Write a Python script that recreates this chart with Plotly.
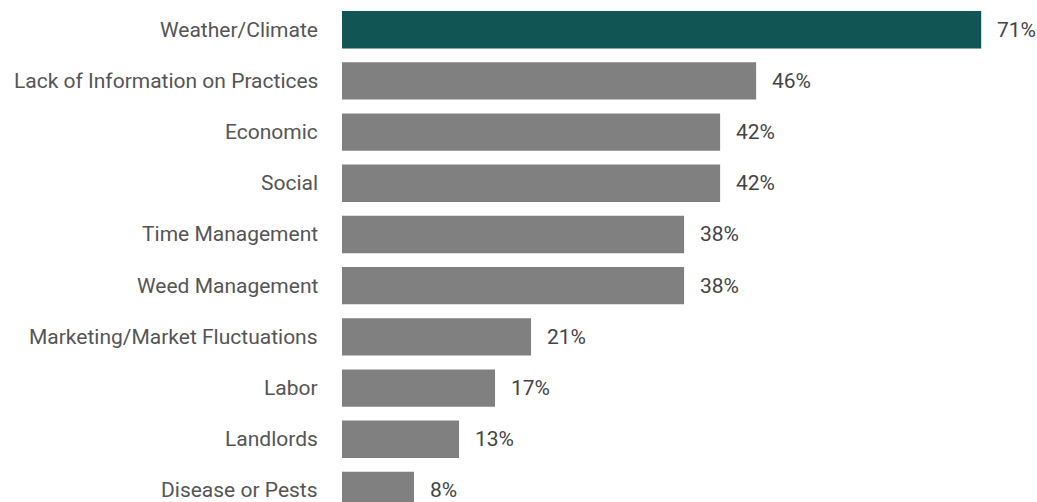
import plotly.graph_objects as go

categories = ["Weather/Climate", "Lack of Information on Practices", "Economic", "Social",
              "Time Management", "Weed Management", "Marketing/Market Fluctuations",
              "Labor", "Landlords", "Disease or Pests"]
values = [71, 46, 42, 42, 38, 38, 21, 17, 13, 8]
labels = [f"{v}%" for v in values]
colors = ["#115555"] + ["#808080"] * (len(values) - 1)

idx = list(range(len(categories)))

fig = go.Figure()
fig.add_trace(go.Bar(
    x=values, y=idx, orientation="h", marker=dict(color=colors, line=dict(width=0)),
    width=0.73, hoverinfo="skip",
))
for i, (v, t, c) in enumerate(zip(values, labels, categories)):
    fig.add_annotation(x=v, y=i, text=t, showarrow=False, xanchor="left", yanchor="middle",
                       xshift=14, font=dict(family="Roboto", size=21, color="#444444"))
    fig.add_annotation(x=0, xref="paper", y=i, text=c, showarrow=False, xanchor="right",
                       yanchor="middle", xshift=-22,
                       font=dict(family="Roboto", size=21, color="#555555"))

fig.update_layout(
    width=1037, height=502, margin=dict(l=342, r=0, t=0, b=0),
    paper_bgcolor="white", plot_bgcolor="white", showlegend=False,
    font=dict(family="Roboto", size=21, color="#555555"),
)
fig.update_xaxes(range=[0, 77.2], visible=False)
fig.update_yaxes(range=[9.225, -0.58], showticklabels=False,
                 showgrid=False, zeroline=False, showline=False, ticks="")

fig.write_html("out.html")
